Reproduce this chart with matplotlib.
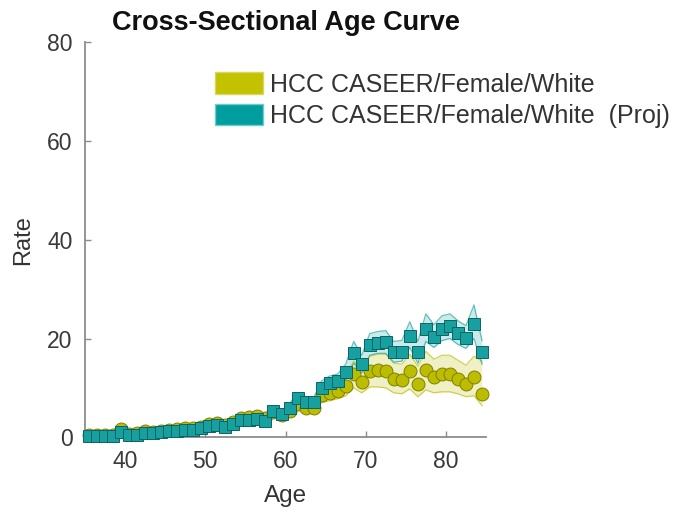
import numpy as np
import matplotlib
matplotlib.use('Agg')
import matplotlib.pyplot as plt
from matplotlib.patches import Patch

plt.rcParams['font.family'] = ['Liberation Sans', 'DejaVu Sans']

# age bins (mid points)
edades = np.arange(35.5, 85.0, 1.0)

tasa_fem = [0.4, 0.5, 0.5, 0.5, 1.6, 0.6, 0.8, 1.2, 1.1, 1.3,
            1.5, 1.6, 1.8, 1.9, 2.1, 2.6, 2.8, 2.5, 3.0, 3.9,
            4.1, 4.2, 3.9, 5.2, 4.5, 5.3, 6.8, 6.0, 6.0, 8.6,
            9.0, 9.4, 10.4, 12.8, 11.2, 13.4, 13.6, 13.4, 11.8, 11.6,
            13.4, 10.8, 13.6, 12.2, 12.8, 12.8, 11.8, 10.8, 12.2, 8.8]
fem_lo = [0.2, 0.3, 0.3, 0.3, 1.0, 0.4, 0.5, 0.9, 0.8, 1.0,
          1.2, 1.3, 1.4, 1.5, 1.7, 2.1, 2.3, 2.1, 2.5, 3.3,
          3.5, 3.6, 3.3, 4.4, 3.8, 4.4, 5.6, 5.0, 5.0, 7.0,
          7.4, 7.8, 8.4, 10.0, 9.0, 10.2, 10.2, 10.0, 9.0, 8.8,
          9.8, 8.2, 9.6, 9.0, 9.2, 9.2, 8.8, 8.2, 8.4, 6.4]
fem_hi = [0.6, 0.7, 0.7, 0.7, 2.1, 0.8, 1.1, 1.5, 1.4, 1.6,
          1.8, 1.9, 2.2, 2.3, 2.5, 3.1, 3.3, 3.0, 3.5, 4.5,
          4.7, 4.8, 4.6, 6.0, 5.3, 6.2, 8.0, 7.1, 7.1, 10.2,
          10.6, 11.0, 12.4, 15.4, 13.6, 16.4, 16.8, 16.8, 15.0, 14.8,
          16.8, 14.4, 17.4, 15.8, 16.6, 16.6, 15.6, 14.6, 16.4, 15.4]

tasa_proj = [0.2, 0.3, 0.3, 0.3, 1.1, 0.4, 0.5, 0.9, 0.9, 1.0,
             1.3, 1.3, 1.5, 1.5, 1.9, 2.3, 2.5, 2.1, 2.7, 3.4,
             3.5, 3.7, 3.3, 5.4, 4.7, 6.0, 8.0, 7.1, 7.1, 10.0,
             11.0, 11.4, 13.2, 17.0, 14.8, 18.6, 19.0, 19.2, 17.2, 17.2,
             20.6, 17.2, 22.0, 20.4, 22.0, 22.6, 21.2, 20.2, 23.0, 17.2]
proj_lo = [0.1, 0.2, 0.2, 0.2, 0.8, 0.3, 0.4, 0.7, 0.7, 0.8,
           1.1, 1.1, 1.3, 1.3, 1.6, 2.0, 2.2, 1.8, 2.4, 3.0,
           3.1, 3.3, 2.9, 4.8, 4.1, 5.2, 7.0, 6.2, 6.2, 8.8,
           9.6, 10.0, 11.6, 15.0, 13.0, 16.6, 17.0, 17.0, 15.2, 15.4,
           18.2, 15.0, 19.4, 18.2, 19.6, 20.0, 18.8, 18.0, 20.0, 14.8]
proj_hi = [0.3, 0.4, 0.4, 0.4, 1.4, 0.5, 0.6, 1.1, 1.1, 1.2,
           1.5, 1.5, 1.7, 1.7, 2.2, 2.6, 2.8, 2.4, 3.0, 3.8,
           3.9, 4.1, 3.7, 6.0, 5.3, 6.8, 9.0, 8.0, 8.0, 11.4,
           12.4, 12.8, 14.8, 19.4, 16.6, 21.0, 21.4, 21.6, 19.4, 19.6,
           23.4, 19.4, 25.0, 22.8, 24.6, 25.0, 23.6, 22.6, 26.8, 19.6]

etiquetas = ['HCC CASEER/Female/White', 'HCC CASEER/Female/White  (Proj)']
amarillo = '#bcbc00'
verde = '#17a0a0'

fig = plt.figure(figsize=(6.75, 5.23), dpi=100)
ax = fig.add_axes([0.126, 0.164, 0.594, 0.755])

# confidence bands
ax.fill_between(edades, fem_lo, fem_hi, color=amarillo, alpha=0.22, lw=0)
ax.plot(edades, fem_lo, color=amarillo, lw=0.9, alpha=0.65)
ax.plot(edades, fem_hi, color=amarillo, lw=0.9, alpha=0.65)
ax.fill_between(edades, proj_lo, proj_hi, color=verde, alpha=0.22, lw=0)
ax.plot(edades, proj_lo, color=verde, lw=0.9, alpha=0.65)
ax.plot(edades, proj_hi, color=verde, lw=0.9, alpha=0.65)

ax.plot(edades, tasa_fem, 'o', ms=9.3, mfc=amarillo, mec='#7f7f00', mew=0.7,
        clip_on=False, zorder=3)
ax.plot(edades, tasa_proj, 's', ms=8.3, mfc=verde, mec='#0b6464', mew=0.7,
        clip_on=False, zorder=4)

ax.set_xlim(35, 85)
ax.set_ylim(0, 80)
ax.set_xticks([40, 50, 60, 70, 80])
ax.set_yticks([0, 20, 40, 60, 80])

for lado in ['top', 'right']:
    ax.spines[lado].set_visible(False)
for lado in ['left', 'bottom']:
    ax.spines[lado].set_color('#8c8c8c')
    ax.spines[lado].set_linewidth(1.3)
ax.tick_params(direction='in', length=4, width=1, colors='#8c8c8c',
               labelcolor='#3a3a3a', labelsize=16.5, pad=9)

ax.set_xlabel('Age', fontsize=17.5, color='#333333', labelpad=9)
ax.set_ylabel('Rate', fontsize=17, color='#333333', labelpad=9)
ax.set_title('Cross-Sectional Age Curve', fontsize=19.5, fontweight='bold',
             color='#111111', pad=9)

manijas = [Patch(facecolor='#c2c200', edgecolor='#d8d860'),
           Patch(facecolor='#009e9e', edgecolor='#70cccc')]
fig.legend(manijas, etiquetas, loc='upper left', bbox_to_anchor=(0.318, 0.862),
           frameon=False, fontsize=18, handlelength=1.95, handleheight=0.95,
           handletextpad=0.25, labelspacing=0.28, borderpad=0, borderaxespad=0,
           labelcolor='#333333')

fig.savefig('out.png', dpi=100)
